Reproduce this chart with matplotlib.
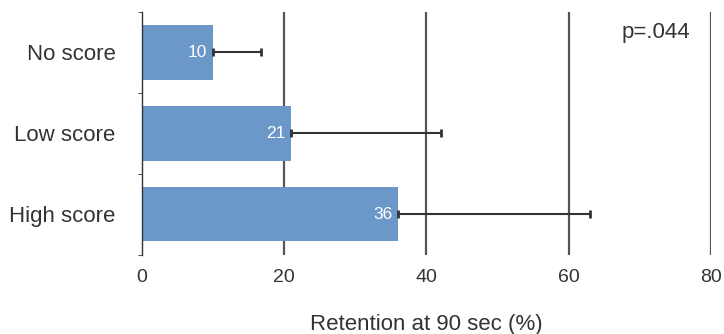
import matplotlib.pyplot as plt

plt.rcParams['font.family'] = ['Liberation Sans', 'DejaVu Sans']

groups = ['No score', 'Low score', 'High score']
retention = [10, 21, 36]
err_upper = [6.8, 21, 27]
p_label = 'p=.044'

fig = plt.figure(figsize=(7.24, 3.34), dpi=100)
ax = fig.add_axes([0.196, 0.237, 0.786, 0.727])

ypos = list(range(len(groups)))
ax.barh(ypos, retention, height=0.67, color='#6b97c9', zorder=2)
ax.errorbar(retention, ypos, xerr=[[0] * len(retention), err_upper], fmt='none',
            ecolor='#333333', elinewidth=1.5, capsize=3, capthick=2, zorder=3)

# value labels inside the bar ends
for y, v in zip(ypos, retention):
    ax.text(v - 0.8, y, str(v), ha='right', va='center', color='white', fontsize=12.5, zorder=4)

ax.set_xlim(0, 80)
ax.set_ylim(2.5, -0.5)
ax.set_xticks([0, 20, 40, 60, 80])
ax.set_yticks(ypos)
ax.set_yticklabels(groups)
ax.set_yticks([-0.5, 0.5, 1.5, 2.5], minor=True)
ax.tick_params(axis='y', which='major', length=0, pad=19, labelsize=16, labelcolor='#333333')
ax.tick_params(axis='y', which='minor', length=3, color='#333333')
ax.tick_params(axis='x', length=0, pad=10, labelsize=14, labelcolor='#333333')

for x in [20, 40, 60, 80]:
    ax.axvline(x, color='#555555', linewidth=1.6, zorder=1)

for side in ['top', 'right', 'bottom']:
    ax.spines[side].set_visible(False)
ax.spines['left'].set_color('#333333')
ax.spines['left'].set_linewidth(1.0)

ax.set_xlabel('Retention at 90 sec (%)', fontsize=16, color='#333333', labelpad=20)
ax.text(72.3, -0.25, p_label, ha='center', va='center', fontsize=16, color='#333333')

plt.savefig('out.png', dpi=100)
